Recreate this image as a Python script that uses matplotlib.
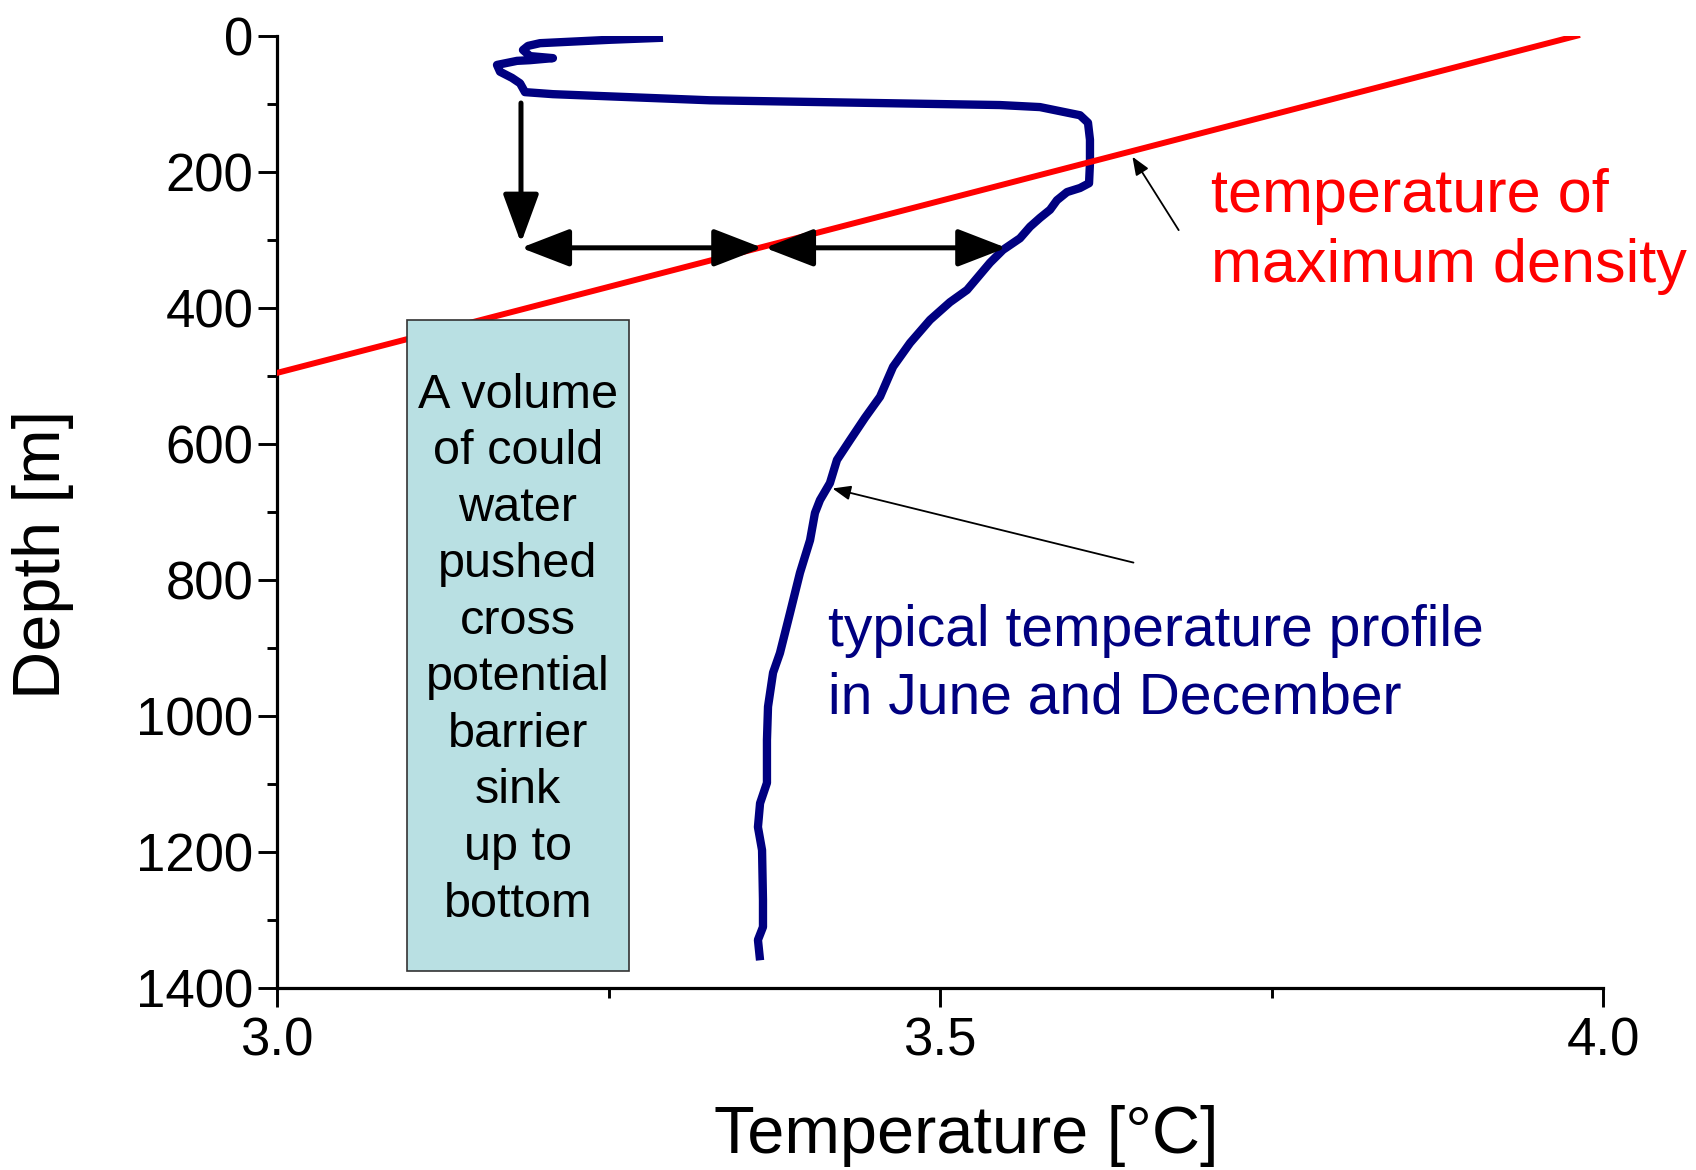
import matplotlib
matplotlib.use("Agg")
import matplotlib.pyplot as plt
from matplotlib.patches import Rectangle, FancyArrowPatch
from matplotlib.ticker import MultipleLocator, FixedLocator

plt.rcParams["font.family"] = ["Liberation Sans", "DejaVu Sans"]

# Typical temperature profile (June / December)
profile_temp = [3.2911, 3.2511, 3.1983, 3.1893, 3.1855, 3.1908, 3.2081, 3.1908,
                3.1810, 3.1659, 3.1682, 3.1772, 3.1833, 3.1870, 3.2081, 3.3265,
                3.5452, 3.5754, 3.5980, 3.6056, 3.6116, 3.6131, 3.6131, 3.6124,
                3.6056, 3.5958, 3.5882, 3.5830, 3.5754, 3.5679, 3.5603, 3.5475,
                3.5377, 3.5204, 3.5075, 3.4925, 3.4774, 3.4646, 3.4548, 3.4434,
                3.4321, 3.4223, 3.4170, 3.4095, 3.4057, 3.4020, 3.3944, 3.3869,
                3.3793, 3.3741, 3.3703, 3.3695, 3.3695, 3.3643, 3.3627, 3.3658,
                3.3665, 3.3665, 3.3627, 3.3643]
profile_depth = [3, 6, 11, 15, 21, 30, 33, 36,
                 37, 43, 53, 62, 70, 83, 86, 95,
                 102, 105, 114, 117, 128, 153, 187, 217,
                 224, 230, 242, 256, 268, 281, 298, 315,
                 334, 374, 392, 418, 452, 487, 531, 562,
                 595, 624, 658, 683, 702, 742, 790, 849,
                 908, 937, 987, 1036, 1099, 1129, 1164, 1198,
                 1271, 1311, 1330, 1360]

# Temperature of maximum density vs depth
tmd_temp = [3.9804, 3.0]
tmd_depth = [0, 496]

# Axis ticks
x_ticks = [3.0, 3.5, 4.0]
x_tick_labels = ["3.0", "3.5", "4.0"]
y_ticks = [0, 200, 400, 600, 800, 1000, 1200, 1400]

# Schematic of the sinking cold-water volume
sink_x = 3.184
sink_top, sink_depth = 99, 305
arrow_depth = 312
arrow_left, arrow_mid, arrow_right = 3.184, 3.366, 3.550

box_x0, box_x1 = 3.0978, 3.2658
box_d0, box_d1 = 418, 1376
box_text = "A volume\nof could\nwater\npushed\ncross\npotential\nbarrier\nsink\nup to\nbottom"

fig = plt.figure(figsize=(16.96, 11.70), dpi=100)
ax = fig.add_axes([277 / 1696, 1 - 987.5 / 1170, 1326 / 1696, 951.8 / 1170])

ax.plot(profile_temp, profile_depth, color="#000080", lw=6.0,
        solid_joinstyle="round", solid_capstyle="butt", zorder=3)
ax.plot(tmd_temp, tmd_depth, color="#ff0000", lw=4.3, zorder=4)

ax.add_patch(Rectangle((box_x0, box_d0), box_x1 - box_x0, box_d1 - box_d0,
                       facecolor="#b9e0e3", edgecolor="#333333", lw=1.2, zorder=5))
ax.text((box_x0 + box_x1) / 2, 903, box_text,
        ha="center", va="center", fontsize=35, linespacing=1.33, zorder=6)

thick = dict(color="black", lw=3.6, mutation_scale=20, zorder=7,
             shrinkA=0, shrinkB=0)
ax.add_patch(FancyArrowPatch((sink_x, sink_top), (sink_x, sink_depth),
                             arrowstyle="-|>,head_length=1.5,head_width=0.55", **thick))
ax.add_patch(FancyArrowPatch((arrow_left, arrow_depth), (arrow_mid, arrow_depth),
                             arrowstyle="<|-|>,head_length=1.5,head_width=0.58", **thick))
ax.add_patch(FancyArrowPatch((arrow_mid + 0.002, arrow_depth), (arrow_right, arrow_depth),
                             arrowstyle="<|-|>,head_length=1.5,head_width=0.58", **thick))

thin = dict(color="black", lw=1.3, mutation_scale=20, zorder=7,
            shrinkA=0, shrinkB=0, arrowstyle="-|>,head_length=0.55,head_width=0.22")
ax.add_patch(FancyArrowPatch((3.680, 286), (3.6451, 178), **thin))
ax.add_patch(FancyArrowPatch((3.6459, 775), (3.4189, 666), **thin))

ax.text(3.7047, 288, "temperature of\nmaximum density", color="#ff0000",
        fontsize=44, ha="left", va="center", linespacing=1.31, clip_on=False)
ax.text(3.4159, 925, "typical temperature profile\nin June and December",
        color="#000080", fontsize=41, ha="left", va="center", linespacing=1.31)

ax.set_xlim(3.0, 4.0)
ax.set_ylim(1400, 0)
ax.xaxis.set_major_locator(FixedLocator(x_ticks))
ax.set_xticklabels(x_tick_labels)
ax.xaxis.set_minor_locator(MultipleLocator(0.25))
ax.yaxis.set_major_locator(FixedLocator(y_ticks))
ax.yaxis.set_minor_locator(MultipleLocator(100))

for side in ("top", "right"):
    ax.spines[side].set_visible(False)
for side in ("left", "bottom"):
    ax.spines[side].set_linewidth(2.3)

ax.tick_params(axis="both", which="major", direction="out", length=14, width=2.1)
ax.tick_params(axis="both", which="minor", direction="out", length=7.5, width=2.1)
ax.tick_params(axis="x", which="major", labelsize=38, pad=7)
ax.tick_params(axis="y", which="major", labelsize=38, pad=3)

ax.set_xlabel("Temperature [°C]", fontsize=48)
ax.xaxis.set_label_coords(0.5196, -0.156)
ax.xaxis.label.set_va("center")
ax.set_ylabel("Depth [m]", fontsize=48)
ax.yaxis.set_label_coords(-0.1765, 0.4555)
ax.yaxis.label.set_va("center")

fig.savefig("out.png", dpi=100)
